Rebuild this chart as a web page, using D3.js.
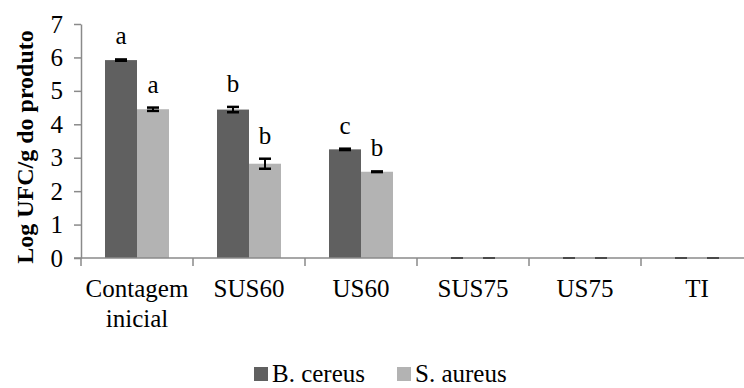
<!DOCTYPE html>
<html>
<head>
<meta charset="utf-8">
<title>Log UFC/g</title>
<script src="https://cdnjs.cloudflare.com/ajax/libs/d3/7.8.5/d3.min.js"></script>
<style>
body { margin: 0; background: #fff; }
svg text { font-family: "Liberation Serif", "DejaVu Serif", "Times New Roman", serif; }
</style>
</head>
<body>
<script>
var categories = ["Contagem inicial", "SUS60", "US60", "SUS75", "US75", "TI"];
var series = ["B. cereus", "S. aureus"];
var cereus = [5.92, 4.44, 3.25, 0, 0, 0];
var cereusErr = [0.02, 0.08, 0.02, 0, 0, 0];
var cereusLetters = ["a", "b", "c", "", "", ""];
var aureus = [4.45, 2.82, 2.58, 0, 0, 0];
var aureusErr = [0.05, 0.15, 0.01, 0, 0, 0];
var aureusLetters = ["a", "b", "b", "", "", ""];
var yTicks = [0, 1, 2, 3, 4, 5, 6, 7];
var colors = ["#606060", "#b3b3b3"];

var W = 744, H = 388;
var mLeft = 81, mTop = 24, mBottom = 258;

var svg = d3.select("body").append("svg")
    .attr("width", W)
    .attr("height", H)
    .attr("font-family", "Liberation Serif");

var x = d3.scaleBand().domain(categories).range([mLeft, mLeft + 112 * 6]).padding(0);
var xs = d3.scaleBand().domain(series).range([0, x.bandwidth()]).paddingInner(0).paddingOuter(0.75);
var y = d3.scaleLinear().domain([0, 7]).range([mBottom, mTop]);

var rows = [];
categories.forEach(function(c, i){
  rows.push({cat: c, s: series[0], v: cereus[i], e: cereusErr[i], l: cereusLetters[i], col: colors[0]});
  rows.push({cat: c, s: series[1], v: aureus[i], e: aureusErr[i], l: aureusLetters[i], col: colors[1]});
});

// bars
svg.selectAll(".bar")
  .data(rows.filter(function(d){ return d.v > 0; }))
  .enter().append("rect")
  .attr("class", "bar")
  .attr("x", function(d){ return x(d.cat) + xs(d.s); })
  .attr("width", xs.bandwidth())
  .attr("y", function(d){ return y(d.v); })
  .attr("height", function(d){ return y(0) - y(d.v); })
  .style("fill", function(d){ return d.col; });

// y axis
var yAxis = svg.append("g")
  .attr("transform", "translate(" + mLeft + ",0)")
  .call(d3.axisLeft(y).tickValues(yTicks).tickFormat(d3.format("d")).tickSize(7).tickPadding(11).tickSizeOuter(0));
yAxis.attr("font-family", null).attr("font-size", null);
yAxis.selectAll("path, line").style("stroke", "#8a8a8a").style("stroke-width", 1.5);
yAxis.selectAll("text").attr("font-size", 25).style("fill", "#000");

// x axis line and category boundary ticks
svg.append("line")
  .attr("x1", mLeft - 7).attr("x2", W)
  .attr("y1", y(0)).attr("y2", y(0))
  .style("stroke", "#8a8a8a").style("stroke-width", 1.5);
svg.selectAll(".xtick")
  .data(categories)
  .enter().append("line")
  .attr("class", "xtick")
  .attr("x1", function(d){ return x(d); })
  .attr("x2", function(d){ return x(d); })
  .attr("y1", y(0)).attr("y2", y(0) + 8)
  .style("stroke", "#8a8a8a").style("stroke-width", 1.5);

// category labels
var lab = svg.selectAll(".xlab")
  .data(categories)
  .enter().append("text")
  .attr("class", "xlab")
  .attr("text-anchor", "middle")
  .attr("font-size", 25);
lab.each(function(d){
  var words = d.split(" ");
  var t = d3.select(this);
  words.forEach(function(w, k){
    t.append("tspan")
      .attr("x", x(d) + x.bandwidth() / 2)
      .attr("y", 297 + k * 30)
      .text(w);
  });
});

// error bars
var eb = svg.selectAll(".err")
  .data(rows)
  .enter().append("g")
  .attr("class", "err");
eb.append("line")
  .attr("x1", function(d){ return x(d.cat) + xs(d.s) + xs.bandwidth() / 2; })
  .attr("x2", function(d){ return x(d.cat) + xs(d.s) + xs.bandwidth() / 2; })
  .attr("y1", function(d){ return y(d.v + d.e); })
  .attr("y2", function(d){ return y(d.v - d.e); })
  .style("stroke", "#000").style("stroke-width", 2);
[1, -1].forEach(function(sg){
  eb.append("line")
    .attr("x1", function(d){ return x(d.cat) + xs(d.s) + xs.bandwidth() / 2 - 6; })
    .attr("x2", function(d){ return x(d.cat) + xs(d.s) + xs.bandwidth() / 2 + 6; })
    .attr("y1", function(d){ return y(d.v + sg * d.e); })
    .attr("y2", function(d){ return y(d.v + sg * d.e); })
    .style("stroke", function(d){ return d.v > 0 ? "#000" : "#444"; })
    .style("stroke-width", function(d){ return d.v > 0 ? 2.5 : 1.5; });
});

// letters
svg.selectAll(".letter")
  .data(rows.filter(function(d){ return d.l; }))
  .enter().append("text")
  .attr("class", "letter")
  .attr("text-anchor", "middle")
  .attr("x", function(d){ return x(d.cat) + xs(d.s) + xs.bandwidth() / 2; })
  .attr("y", function(d){ return y(d.v + d.e) - 15; })
  .attr("font-size", 25)
  .text(function(d){ return d.l; });

// y title
svg.append("text")
  .attr("transform", "translate(33," + ((mTop + mBottom) / 2 + 6) + ") rotate(-90)")
  .attr("text-anchor", "middle")
  .attr("font-size", 24)
  .attr("font-weight", "bold")
  .text("Log UFC/g do produto");

// legend
var lx = [254, 397];
var leg = svg.selectAll(".leg")
  .data(series)
  .enter().append("g")
  .attr("class", "leg")
  .attr("transform", function(d, i){ return "translate(" + lx[i] + ",367)"; });
leg.append("rect")
  .attr("width", 14).attr("height", 14)
  .style("fill", function(d, i){ return colors[i]; });
leg.append("text")
  .attr("x", 18).attr("y", 15)
  .attr("font-size", 25)
  .text(function(d){ return d; });
</script>
</body>
</html>
